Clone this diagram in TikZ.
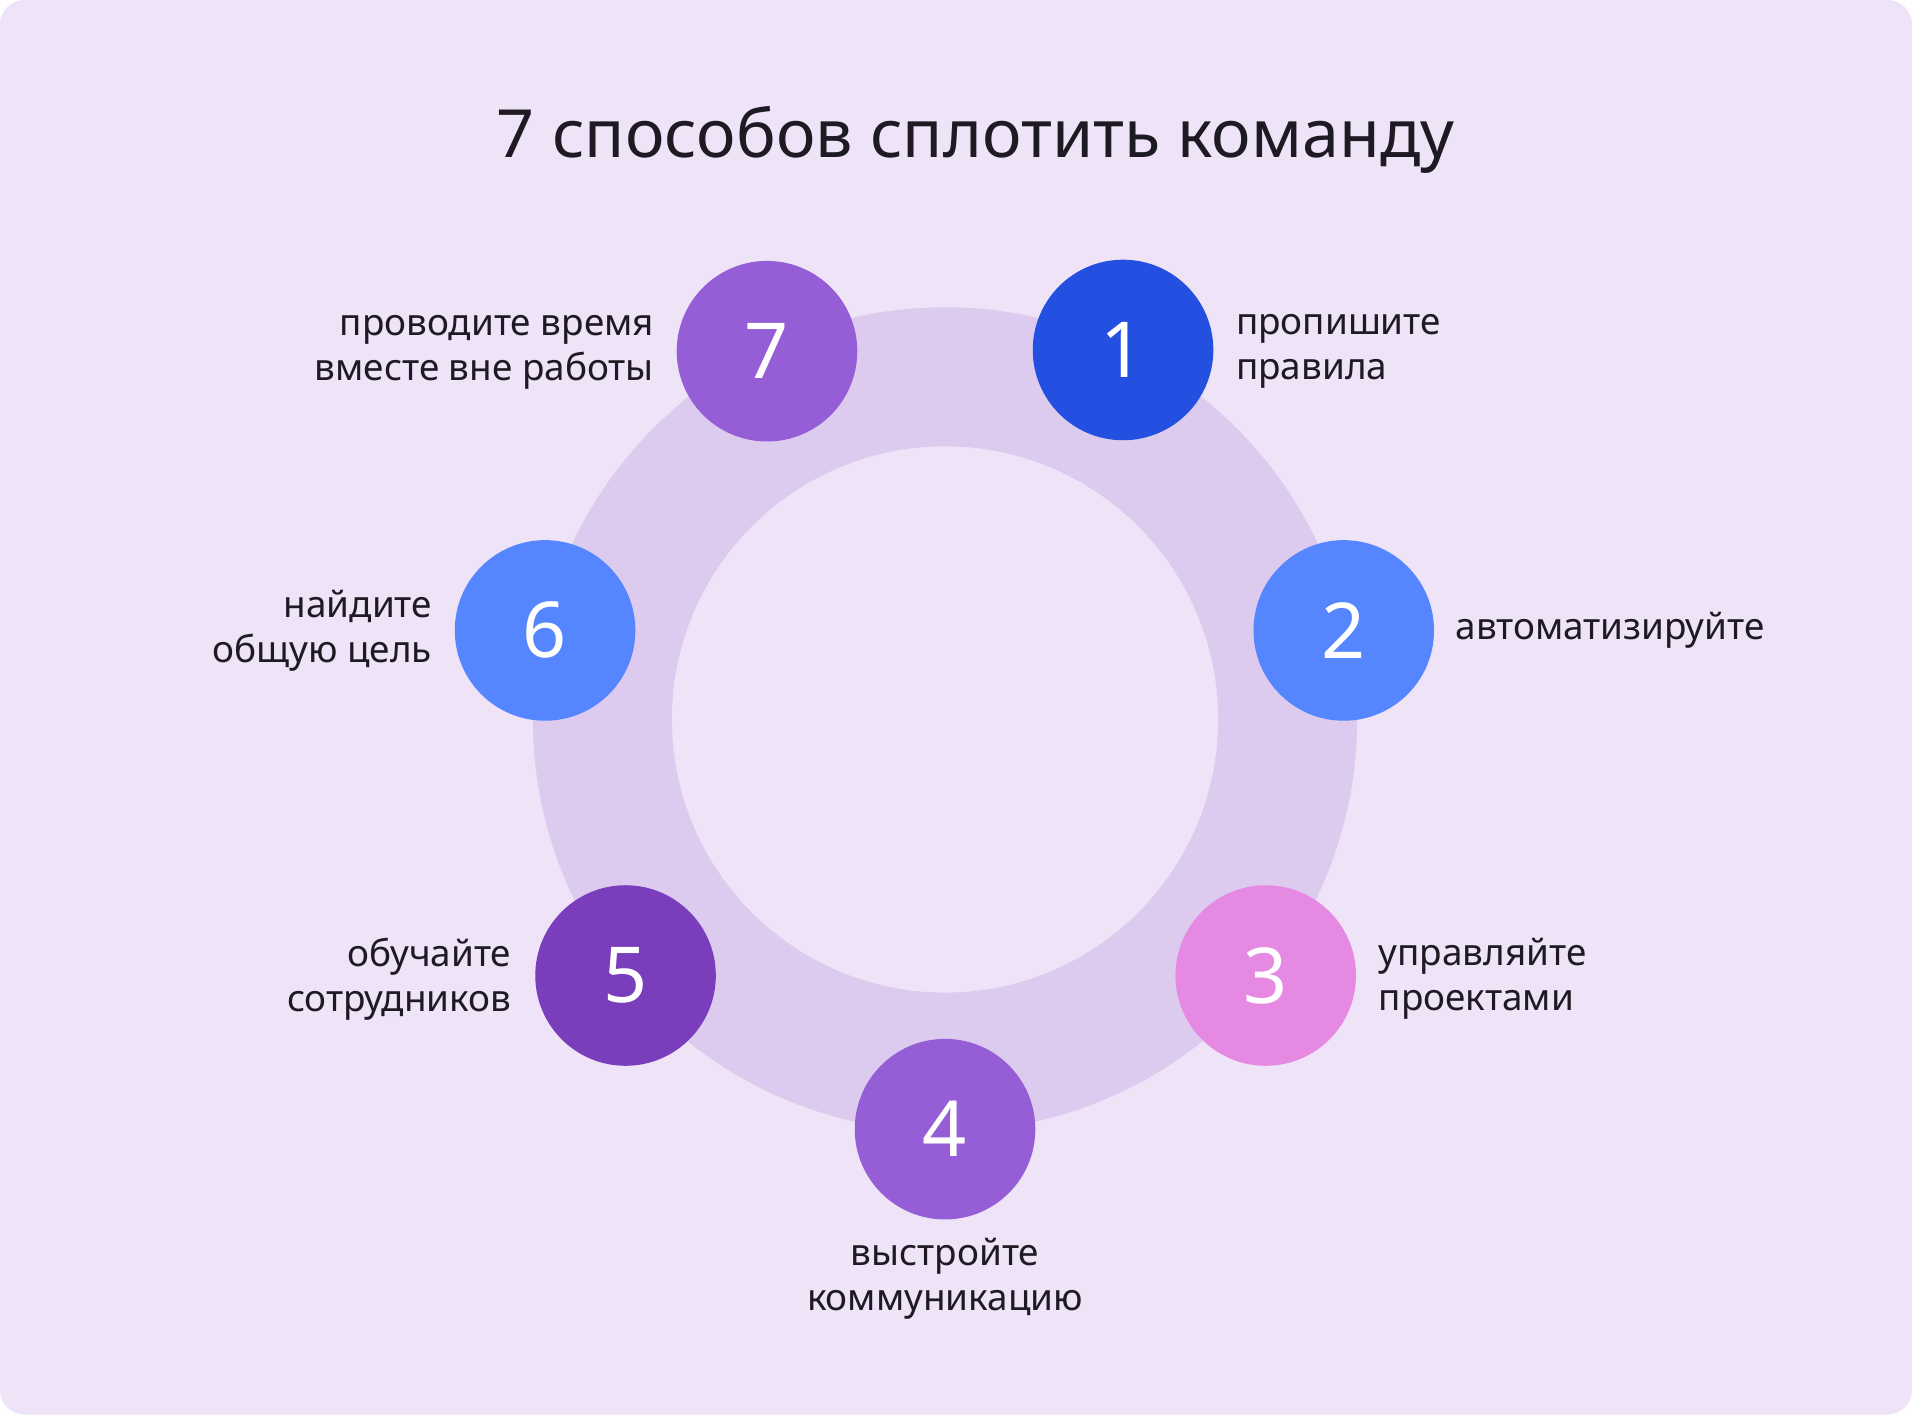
\documentclass[tikz,border=0pt]{standalone}
\usepackage{fontspec}
\setmainfont{Noto Sans}
\begin{document}
\begin{tikzpicture}[x=0.01cm,y=-0.01cm,
  num/.style={circle,minimum size=1.48cm,inner sep=0pt,text=white,font=\fontsize{18}{20}\selectfont},
  lab/.style={text=txt,font=\fontsize{8.6}{10.5}\selectfont,inner sep=0pt}]
\definecolor{bg}{HTML}{EFE3F8}
\definecolor{ring}{HTML}{DDCBEF}
\definecolor{txt}{HTML}{1E1A24}
\definecolor{cA}{HTML}{2350E0}
\definecolor{cB}{HTML}{5585FF}
\definecolor{cC}{HTML}{E589E3}
\definecolor{cD}{HTML}{955DD6}
\definecolor{cE}{HTML}{7A3DBB}
\useasboundingbox (0,0) rectangle (1568,1160);
\fill[white] (0,0) rectangle (1568,1160);
\fill[bg,rounded corners=0.2cm] (0,0) rectangle (1568,1160);
\node[text=txt,font=\fontsize{15.5}{18}\selectfont\bfseries] (title) at (800,115) {7 способов сплотить команду};
\fill[ring,even odd rule] (775,590) circle[radius=338] (775,590) circle[radius=224];
\node[num,fill=cA] (n1) at (921,287) {1};
\node[num,fill=cB] (n2) at (1102,517) {2};
\node[num,fill=cC] (n3) at (1038,800) {3};
\node[num,fill=cD] (n4) at (775,926) {4};
\node[num,fill=cE] (n5) at (513,800) {5};
\node[num,fill=cB] (n6) at (447,517) {6};
\node[num,fill=cD] (n7) at (629,288) {7};
\node[lab,anchor=west,align=left] (l1) at (1013,288) {пропишите\\правила};
\node[lab,anchor=west] (l2) at (1193,517) {автоматизируйте};
\node[lab,anchor=west,align=left] (l3) at (1130,803) {управляйте\\проектами};
\node[lab,anchor=north,align=center] (l4) at (775,1015) {выстройте\\коммуникацию};
\node[lab,anchor=east,align=right] (l5) at (420,803) {обучайте\\сотрудников};
\node[lab,anchor=east,align=right] (l6) at (355,517) {найдите\\общую цель};
\node[lab,anchor=east,align=right] (l7) at (537,289) {проводите время\\вместе вне работы};
\end{tikzpicture}
\end{document}
